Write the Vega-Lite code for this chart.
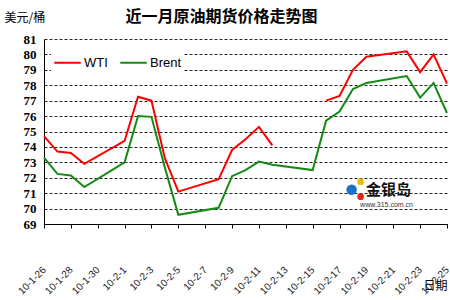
{
  "$schema": "https://vega.github.io/schema/vega-lite/v6.json",
  "width": 403,
  "height": 185,
  "autosize": {"type": "none"},
  "padding": {"left": 44, "top": 39, "right": 3, "bottom": 76},
  "background": "white",
  "title": {
    "text": "近一月原油期货价格走势图",
    "font": "Noto Sans CJK SC",
    "fontSize": 16,
    "fontWeight": "bold",
    "color": "#000",
    "anchor": "middle",
    "frame": "group",
    "dx": -24,
    "offset": -14
  },
  "config": {"view": {"stroke": null}, "font": "Liberation Sans"},
  "encoding": {
    "x": {
      "field": "date",
      "type": "temporal",
      "scale": {
        "type": "utc",
        "domain": [
          {"year": 2010, "month": 1, "date": 26, "utc": true},
          {"year": 2010, "month": 2, "date": 25, "utc": true}
        ]
      },
      "axis": {
        "values": [
          {"year": 2010, "month": 1, "date": 26, "utc": true},
          {"year": 2010, "month": 1, "date": 28, "utc": true},
          {"year": 2010, "month": 1, "date": 30, "utc": true},
          {"year": 2010, "month": 2, "date": 1, "utc": true},
          {"year": 2010, "month": 2, "date": 3, "utc": true},
          {"year": 2010, "month": 2, "date": 5, "utc": true},
          {"year": 2010, "month": 2, "date": 7, "utc": true},
          {"year": 2010, "month": 2, "date": 9, "utc": true},
          {"year": 2010, "month": 2, "date": 11, "utc": true},
          {"year": 2010, "month": 2, "date": 13, "utc": true},
          {"year": 2010, "month": 2, "date": 15, "utc": true},
          {"year": 2010, "month": 2, "date": 17, "utc": true},
          {"year": 2010, "month": 2, "date": 19, "utc": true},
          {"year": 2010, "month": 2, "date": 21, "utc": true},
          {"year": 2010, "month": 2, "date": 23, "utc": true},
          {"year": 2010, "month": 2, "date": 25, "utc": true}
        ],
        "format": "%y-%-m-%-d",
        "labelAngle": -45,
        "labelAlign": "right",
        "labelBaseline": "middle",
        "labelPadding": 40,
        "labelFontSize": 10,
        "labelColor": "#222",
        "labelOverlap": false,
        "labelFlush": false,
        "labelBound": false,
        "grid": false,
        "domainColor": "#000",
        "tickColor": "#000",
        "tickSize": 4,
        "title": "日期",
        "titleFont": "Noto Sans CJK SC",
        "titleFontSize": 12,
        "titleFontWeight": "normal",
        "titleColor": "#000",
        "titleX": 391,
        "titleY": 61,
        "titleAlign": "center",
        "titleBaseline": "middle"
      }
    },
    "y": {
      "field": "price",
      "type": "quantitative",
      "scale": {"domain": [69, 81], "nice": false, "zero": false},
      "axis": {
        "values": [69, 70, 71, 72, 73, 74, 75, 76, 77, 78, 79, 80, 81],
        "labelOverlap": false,
        "grid": true,
        "gridColor": "#000",
        "gridDash": [3, 2],
        "gridWidth": 1,
        "gridOpacity": 0.85,
        "ticks": false,
        "labelPadding": 8,
        "labelFont": "Liberation Sans Narrow",
        "labelFontWeight": "bold",
        "labelFontSize": 13,
        "labelColor": "#000",
        "domainColor": "#000",
        "title": "美元/桶",
        "titleFont": "Noto Sans CJK SC",
        "titleFontSize": 12,
        "titleFontWeight": "normal",
        "titleColor": "#000",
        "titleAngle": 0,
        "titleX": -40,
        "titleY": -22,
        "titleAlign": "left",
        "titleBaseline": "middle"
      }
    }
  },
  "layer": [
    {
      "data": {
        "values": [
          {"date": "2010-01-26", "series": "WTI", "price": 74.7},
          {"date": "2010-01-27", "series": "WTI", "price": 73.7},
          {"date": "2010-01-28", "series": "WTI", "price": 73.6},
          {"date": "2010-01-29", "series": "WTI", "price": 72.9},
          {"date": "2010-02-01", "series": "WTI", "price": 74.4},
          {"date": "2010-02-02", "series": "WTI", "price": 77.25},
          {"date": "2010-02-03", "series": "WTI", "price": 77.0},
          {"date": "2010-02-04", "series": "WTI", "price": 73.25},
          {"date": "2010-02-05", "series": "WTI", "price": 71.1},
          {"date": "2010-02-08", "series": "WTI", "price": 71.9},
          {"date": "2010-02-09", "series": "WTI", "price": 73.8},
          {"date": "2010-02-10", "series": "WTI", "price": 74.5},
          {"date": "2010-02-11", "series": "WTI", "price": 75.3},
          {"date": "2010-02-12", "series": "WTI", "price": 74.1},
          {"date": "2010-02-15", "series": "WTI", "price": null},
          {"date": "2010-02-16", "series": "WTI", "price": 77.0},
          {"date": "2010-02-17", "series": "WTI", "price": 77.3},
          {"date": "2010-02-18", "series": "WTI", "price": 79.0},
          {"date": "2010-02-19", "series": "WTI", "price": 79.85},
          {"date": "2010-02-22", "series": "WTI", "price": 80.2},
          {"date": "2010-02-23", "series": "WTI", "price": 78.85},
          {"date": "2010-02-24", "series": "WTI", "price": 80.0},
          {"date": "2010-02-25", "series": "WTI", "price": 78.1},
          {"date": "2010-01-26", "series": "Brent", "price": 73.3},
          {"date": "2010-01-27", "series": "Brent", "price": 72.25},
          {"date": "2010-01-28", "series": "Brent", "price": 72.15},
          {"date": "2010-01-29", "series": "Brent", "price": 71.4},
          {"date": "2010-02-01", "series": "Brent", "price": 73.0},
          {"date": "2010-02-02", "series": "Brent", "price": 76.0},
          {"date": "2010-02-03", "series": "Brent", "price": 75.95},
          {"date": "2010-02-04", "series": "Brent", "price": 72.65},
          {"date": "2010-02-05", "series": "Brent", "price": 69.6},
          {"date": "2010-02-08", "series": "Brent", "price": 70.05},
          {"date": "2010-02-09", "series": "Brent", "price": 72.1},
          {"date": "2010-02-10", "series": "Brent", "price": 72.5},
          {"date": "2010-02-11", "series": "Brent", "price": 73.05},
          {"date": "2010-02-12", "series": "Brent", "price": 72.85},
          {"date": "2010-02-15", "series": "Brent", "price": 72.5},
          {"date": "2010-02-16", "series": "Brent", "price": 75.7},
          {"date": "2010-02-17", "series": "Brent", "price": 76.3},
          {"date": "2010-02-18", "series": "Brent", "price": 77.75},
          {"date": "2010-02-19", "series": "Brent", "price": 78.15},
          {"date": "2010-02-22", "series": "Brent", "price": 78.6},
          {"date": "2010-02-23", "series": "Brent", "price": 77.2},
          {"date": "2010-02-24", "series": "Brent", "price": 78.15},
          {"date": "2010-02-25", "series": "Brent", "price": 76.2}
        ]
      },
      "mark": {"type": "line", "strokeWidth": 2, "invalid": "break-paths-filter-domains"},
      "encoding": {
        "color": {
          "field": "series",
          "type": "nominal",
          "scale": {"domain": ["WTI", "Brent"], "range": ["#ff0000", "#138a13"]},
          "legend": {
            "orient": "none",
            "legendX": 7,
            "legendY": 7,
            "direction": "horizontal",
            "title": null,
            "symbolType": "stroke",
            "symbolSize": 700,
            "symbolStrokeWidth": 2,
            "labelFontSize": 13,
            "labelColor": "#000",
            "labelOffset": 2,
            "columnPadding": 8,
            "fillColor": "#ffffff",
            "padding": 2
          }
        }
      }
    },
    {
      "data": {"values": [{"date": "2010-02-17T21:36:00Z", "price": 71.22}]},
      "mark": {"type": "point", "filled": true, "size": 110, "color": "#1a73c9", "opacity": 1}
    },
    {
      "data": {"values": [{"date": "2010-02-18T13:40:00Z", "price": 71.74}]},
      "mark": {"type": "point", "filled": true, "size": 45, "color": "#f5b800", "opacity": 1}
    },
    {
      "data": {"values": [{"date": "2010-02-18T13:40:00Z", "price": 70.77}]},
      "mark": {"type": "point", "filled": true, "size": 45, "color": "#e8261c", "opacity": 1}
    },
    {
      "data": {"values": [{"date": "2010-02-20T15:36:00Z", "price": 71.22, "label": "金银岛"}]},
      "mark": {"type": "text", "font": "Noto Sans CJK SC", "fontSize": 15, "fontWeight": "bold", "color": "#111", "align": "center", "baseline": "middle"},
      "encoding": {"text": {"field": "label"}}
    },
    {
      "data": {"values": [{"date": "2010-02-20T12:00:00Z", "price": 70.25, "label": "www.315.com.cn"}]},
      "mark": {"type": "text", "fontSize": 7, "color": "#333", "align": "center", "baseline": "middle"},
      "encoding": {"text": {"field": "label"}}
    }
  ]
}
